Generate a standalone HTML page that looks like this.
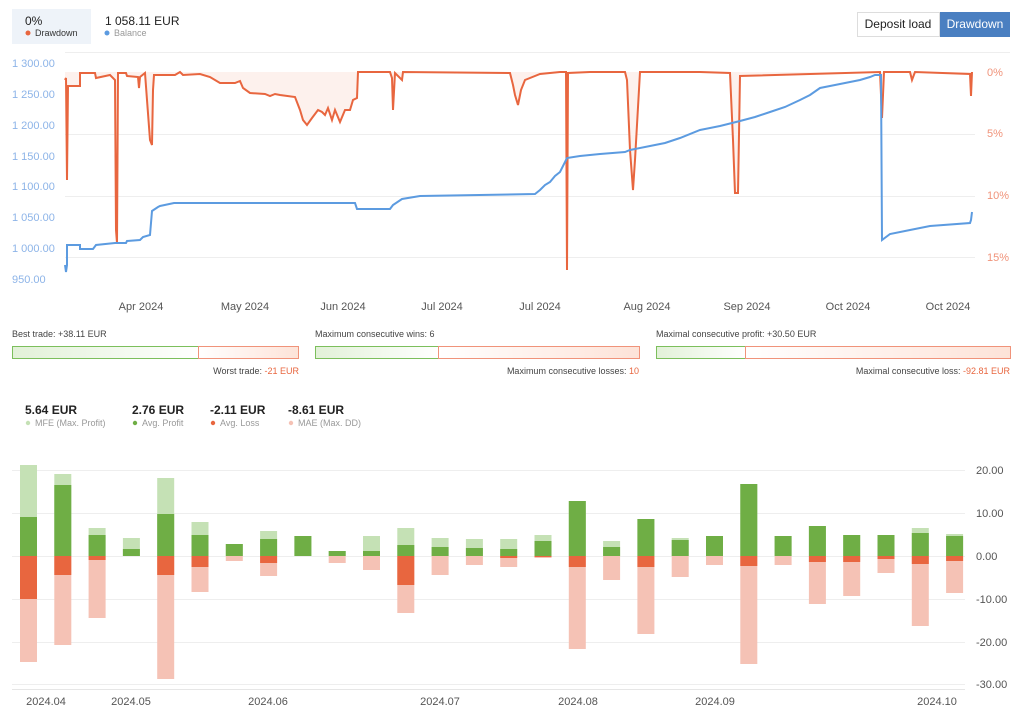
<!DOCTYPE html>
<html><head><meta charset="utf-8"><style>
body{margin:0;background:#fff;font-family:"Liberation Sans",sans-serif;}
svg{display:block}
</style></head><body>
<svg id="s" width="1024" height="712" xmlns="http://www.w3.org/2000/svg" font-family="Liberation Sans, sans-serif">
<rect x="12" y="9" width="79" height="35" fill="#eef3f9"/>
<text x="25" y="25" font-size="12" fill="#222">0%</text>
<circle cx="28" cy="33" r="2.5" fill="#e8663f"/><text x="35" y="36" font-size="9" fill="#333">Drawdown</text>
<text x="105" y="25" font-size="12" fill="#222">1 058.11 EUR</text>
<circle cx="107" cy="33" r="2.5" fill="#5c9be0"/><text x="114" y="36" font-size="9" fill="#999">Balance</text>
<rect x="857.5" y="12.5" width="82" height="24" fill="#fff" stroke="#ddd"/>
<text x="898" y="28" font-size="12" fill="#222" text-anchor="middle">Deposit load</text>
<rect x="940" y="12" width="70" height="25" fill="#4a7fc1"/>
<text x="975" y="28" font-size="12" fill="#fff" text-anchor="middle">Drawdown</text>
<g stroke="#eee" stroke-width="1">
<line x1="65" y1="52.5" x2="1010" y2="52.5"/><line x1="65" y1="134.5" x2="975" y2="134.5"/><line x1="65" y1="196.5" x2="975" y2="196.5"/><line x1="65" y1="257.5" x2="975" y2="257.5"/></g>
<g font-size="11" fill="#8db4e8">
<text x="12" y="67">1 300.00</text><text x="12" y="98">1 250.00</text><text x="12" y="129">1 200.00</text><text x="12" y="160">1 150.00</text><text x="12" y="190">1 100.00</text><text x="12" y="221">1 050.00</text><text x="12" y="252">1 000.00</text><text x="12" y="283">950.00</text></g>
<g font-size="11" fill="#f0937a"><text x="987" y="76">0%</text><text x="987" y="137">5%</text><text x="987" y="199">10%</text><text x="987" y="261">15%</text></g>
<g font-size="11" fill="#555" text-anchor="middle"><text x="141" y="310">Apr 2024</text><text x="245" y="310">May 2024</text><text x="343" y="310">Jun 2024</text><text x="442" y="310">Jul 2024</text><text x="540" y="310">Jul 2024</text><text x="647" y="310">Aug 2024</text><text x="747" y="310">Sep 2024</text><text x="848" y="310">Oct 2024</text><text x="948" y="310">Oct 2024</text></g>
<path id="dd" fill="#fdf1ed" stroke="none"/>
<polyline id="ddl" fill="none" stroke="#e8663f" stroke-width="2"/>
<polyline id="bal" fill="none" stroke="#5c9be0" stroke-width="2"/>
<!-- stats -->
<g font-size="9" fill="#444">
<text x="12" y="337">Best trade: +38.11 EUR</text>
<text x="315" y="337">Maximum consecutive wins: 6</text>
<text x="656" y="337">Maximal consecutive profit: +30.50 EUR</text>
<text x="299" y="374" text-anchor="end">Worst trade: <tspan fill="#e8663f">-21 EUR</tspan></text>
<text x="639" y="374" text-anchor="end">Maximum consecutive losses: <tspan fill="#e8663f">10</tspan></text>
<text x="1010" y="374" text-anchor="end">Maximal consecutive loss: <tspan fill="#e8663f">-92.81 EUR</tspan></text></g>
<defs><linearGradient id="gg"><stop offset="0" stop-color="#e2f1d8"/><stop offset="1" stop-color="#fff"/></linearGradient>
<linearGradient id="rg"><stop offset="0" stop-color="#fff"/><stop offset="1" stop-color="#fde3d8"/></linearGradient></defs>
<rect x="12.5" y="346.5" width="186" height="12" fill="url(#gg)" stroke="#7cbf5c"/><rect x="198.5" y="346.5" width="100" height="12" fill="url(#rg)" stroke="#f0937a"/>
<rect x="315.5" y="346.5" width="123" height="12" fill="url(#gg)" stroke="#7cbf5c"/><rect x="438.5" y="346.5" width="201" height="12" fill="url(#rg)" stroke="#f0937a"/>
<rect x="656.5" y="346.5" width="89" height="12" fill="url(#gg)" stroke="#7cbf5c"/><rect x="745.5" y="346.5" width="265" height="12" fill="url(#rg)" stroke="#f0937a"/>
<g font-size="12" fill="#222" font-weight="bold"><text x="25" y="414">5.64 EUR</text><text x="132" y="414">2.76 EUR</text><text x="210" y="414">-2.11 EUR</text><text x="288" y="414">-8.61 EUR</text></g>
<g font-size="9" fill="#999"><circle cx="28" cy="423" r="2.2" fill="#c5e1b5"/><text x="35" y="426">MFE (Max. Profit)</text>
<circle cx="135" cy="423" r="2.2" fill="#6fae45"/><text x="142" y="426">Avg. Profit</text>
<circle cx="213" cy="423" r="2.2" fill="#e8663f"/><text x="220" y="426">Avg. Loss</text>
<circle cx="291" cy="423" r="2.2" fill="#f5c2b5"/><text x="298" y="426">MAE (Max. DD)</text></g>
<g stroke="#eee"><line x1="12" y1="470.5" x2="965" y2="470.5"/><line x1="12" y1="513.5" x2="965" y2="513.5"/><line x1="12" y1="556.5" x2="965" y2="556.5"/><line x1="12" y1="599.5" x2="965" y2="599.5"/><line x1="12" y1="642.5" x2="965" y2="642.5"/><line x1="12" y1="684.5" x2="965" y2="684.5"/><line x1="12" y1="689.5" x2="965" y2="689.5" stroke="#e6e6e6"/></g>
<g font-size="11" fill="#555"><text x="976" y="474">20.00</text><text x="976" y="517">10.00</text><text x="976" y="560">0.00</text><text x="976" y="603">-10.00</text><text x="976" y="646">-20.00</text><text x="976" y="688">-30.00</text></g>
<g font-size="11" fill="#555" text-anchor="middle"><text x="46" y="705">2024.04</text><text x="131" y="705">2024.05</text><text x="268" y="705">2024.06</text><text x="440" y="705">2024.07</text><text x="578" y="705">2024.08</text><text x="715" y="705">2024.09</text><text x="937" y="705">2024.10</text></g>
<g id="bars"></g>
</svg>
<script>
var bal=[[65,265],[66,272],[67,265],[67,245],[80,245],[80,249],[93,249],[96,245],[115,243],[126,243],[127,241],[140,240],[143,237],[150,235],[152,211],[158,207],[160,206],[174,203],[355,203],[357,209],[390,209],[393,205],[402,199],[420,196],[535,194],[540,190],[545,185],[550,182],[555,176],[560,172],[567,158],[580,156],[600,154],[625,152],[630,150],[650,146],[665,143],[680,138],[700,130],[720,126],[740,121],[755,117],[770,112],[785,107],[800,100],[810,95],[820,88],[835,85],[850,82],[860,80],[870,77],[875,75],[881,75],[882,240],[890,234],[910,230],[930,226],[970,223],[971,220],[972,212]];
var dd=[[65,80],[66,78],[67,180],[68,86],[80,86],[80,73],[95,73],[96,78],[110,75],[115,80],[116,230],[117,243],[118,73],[126,73],[127,76],[138,77],[139,88],[140,77],[145,73],[147,100],[150,140],[152,145],[153,90],[154,75],[175,75],[180,72],[183,75],[200,74],[210,77],[220,83],[235,83],[240,81],[243,88],[250,93],[265,94],[270,96],[275,94],[280,95],[295,97],[300,110],[303,120],[307,125],[312,118],[318,110],[322,112],[325,115],[328,108],[332,120],[335,110],[340,122],[345,110],[350,110],[353,100],[357,98],[358,72],[390,72],[392,78],[393,110],[395,73],[402,80],[403,72],[510,73],[513,85],[515,95],[518,105],[521,90],[525,80],[540,74],[560,72],[566,72],[567,270],[568,73],[590,72],[625,72],[627,80],[630,150],[633,190],[635,160],[640,72],[700,72],[730,73],[733,140],[735,193],[738,193],[740,76],[880,72],[882,118],[884,72],[910,72],[912,80],[915,72],[970,74],[971,96],[972,72]];
function pts(a){return a.map(p=>p.join(',')).join(' ');}
document.getElementById('bal').setAttribute('points',pts(bal));
document.getElementById('ddl').setAttribute('points',pts(dd));
document.getElementById('dd').setAttribute('d','M65,72 L'+pts(dd)+' L972,72 Z');
// bars: [mfeTop, profitTop, lossBottom, maeBottom]
var B=[[465,517,599,662],[474,485,575,645],[528,535,560,618],[538,549,556,556],[478,514,575,679],[522,535,567,592],[544,544,556,561],[531,539,563,576],[536,536,556,556],[551,551,556,563],[536,551,556,570],[528,545,585,613],[538,547,556,575],[539,548,556,565],[539,549,558,567],[535,541,557,558],[501,501,567,649],[541,547,556,580],[519,519,567,634],[538,540,556,577],[536,536,556,565],[484,484,566,664],[536,536,556,565],[526,526,562,604],[535,535,562,596],[535,535,559,573],[528,533,564,626],[534,536,561,593]];
var g=document.getElementById('bars'),h='',z=556;
B.forEach(function(b,i){var x=20+i*34.3,w=17;
h+='<rect x="'+x+'" y="'+b[0]+'" width="'+w+'" height="'+(z-b[0])+'" fill="#c5e1b5"/>';
h+='<rect x="'+x+'" y="'+b[1]+'" width="'+w+'" height="'+(z-b[1])+'" fill="#6fae45"/>';
h+='<rect x="'+x+'" y="'+z+'" width="'+w+'" height="'+(b[3]-z)+'" fill="#f5c2b5"/>';
h+='<rect x="'+x+'" y="'+z+'" width="'+w+'" height="'+(b[2]-z)+'" fill="#e8663f"/>';});
g.innerHTML=h;
</script>
</body></html>
